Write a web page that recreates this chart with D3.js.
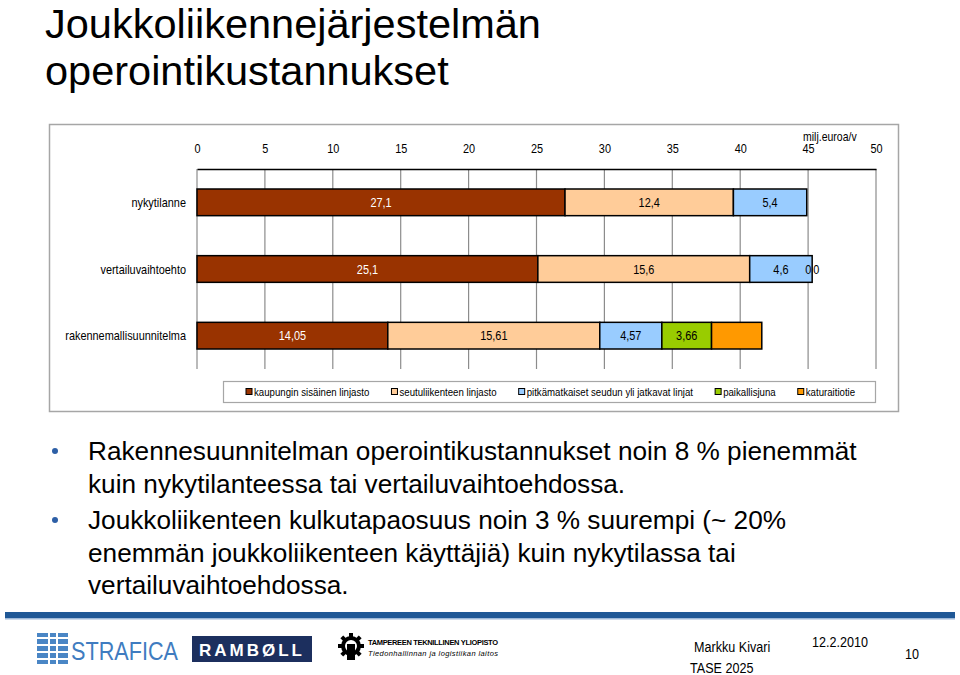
<!DOCTYPE html>
<html>
<head>
<meta charset="utf-8">
<script src="https://cdn.jsdelivr.net/npm/d3@7"></script>
<style>
  html, body { margin: 0; padding: 0; background: #fff; }
  svg { display: block; }
  .sans, .narrow { font-family: "Liberation Sans", Arial, Helvetica, sans-serif; }
</style>
</head>
<body>
<svg id="chart" width="960" height="675"></svg>
<script>
// ---------- DATA ----------
const titleLines = ["Joukkoliikennejärjestelmän", "operointikustannukset"];
const categories = ["nykytilanne", "vertailuvaihtoehto", "rakennemallisuunnitelma"];
const seriesNames = ["kaupungin sisäinen linjasto", "seutuliikenteen linjasto",
  "pitkämatkaiset seudun yli jatkavat linjat", "paikallisjuna", "katuraitiotie"];
const kaupunginSisainen = [27.1, 25.1, 14.05];
const seutuliikenne = [12.4, 15.6, 15.61];
const pitkamatkaiset = [5.4, 4.6, 4.57];
const paikallisjuna = [null, 0, 3.66];
const katuraitiotie = [null, 0, 3.7];
const hiddenLabels = [["katuraitiotie", "rakennemallisuunnitelma"]];
const seriesColors = ["#993300", "#FFCC99", "#99CCFF", "#99CC00", "#FF9900"];
const labelColors = ["#ffffff", "#000000", "#000000", "#000000", "#000000"];
const xTicks = [0, 5, 10, 15, 20, 25, 30, 35, 40, 45, 50];
const unitLabel = "milj.euroa/v";
const bullets = [
  ["Rakennesuunnitelman operointikustannukset noin 8 % pienemmät",
   "kuin nykytilanteessa tai vertailuvaihtoehdossa."],
  ["Joukkoliikenteen kulkutapaosuus noin 3 % suurempi (~ 20%",
   "enemmän joukkoliikenteen käyttäjiä) kuin nykytilassa tai",
   "vertailuvaihtoehdossa."]
];
const footerAuthor = "Markku Kivari";
const footerProject = "TASE 2025";
const footerDate = "12.2.2010";
const footerPage = "10";

const seriesValues = [kaupunginSisainen, seutuliikenne, pitkamatkaiset, paikallisjuna, katuraitiotie];

// condensed look (no narrow font installed): horizontal squeeze
const K = 0.84;
function narrow(sel, k = K) {
  sel.each(function () {
    const t = d3.select(this);
    const x = +t.attr("x") || 0, y = +t.attr("y") || 0;
    t.attr("x", 0).attr("y", 0).attr("transform", `translate(${x},${y}) scale(${k},1)`);
  });
  return sel;
}

// ---------- DRAW ----------
const svg = d3.select("#chart");

// Title
svg.append("g").selectAll("text").data(titleLines).join("text")
  .attr("class", "sans")
  .attr("x", 45).attr("y", (d, i) => 38 + i * 47)
  .attr("font-size", 41.5).attr("fill", "#000")
  .text(d => d);

// Chart frame
svg.append("rect").attr("x", 49.5).attr("y", 124.5).attr("width", 849).attr("height", 287)
  .attr("fill", "#fff").attr("stroke", "#a6a6a6").attr("stroke-width", 1.5);

const x = d3.scaleLinear().domain([0, 50]).range([197, 876]);
const y = d3.scaleBand().domain(categories).range([169, 369]).paddingInner(0.6).paddingOuter(0.3);

const plot = svg.append("g");

// gridlines
plot.append("g").selectAll("line").data(xTicks).join("line")
  .attr("x1", d => x(d)).attr("x2", d => x(d))
  .attr("y1", 169).attr("y2", 369)
  .attr("stroke", "#8c8c8c").attr("stroke-width", 1.2);

// top axis
const axis = d3.axisTop(x).tickValues(xTicks).tickSize(0).tickPadding(16).tickFormat(d => d);
const axG = plot.append("g").attr("transform", "translate(0,169)").call(axis);
axG.select(".domain").attr("stroke", "#000").attr("stroke-width", 1.3);
axG.selectAll("text").attr("class", "narrow").attr("font-size", 13).attr("fill", "#000")
  .attr("font-family", null);
narrow(axG.selectAll(".tick text"));

narrow(plot.append("text").attr("class", "narrow").attr("x", 803).attr("y", 140.5)
  .attr("font-size", 12.5).text(unitLabel));

// category labels
narrow(plot.append("g").selectAll("text").data(categories).join("text")
  .attr("class", "narrow")
  .attr("x", 186).attr("y", d => y(d) + y.bandwidth() / 2)
  .attr("dy", "0.35em").attr("text-anchor", "end")
  .attr("font-size", 13).text(d => d));

// stacked segments
const segs = [];
categories.forEach((c, ci) => {
  let acc = 0;
  const zerosHere = [];
  seriesValues.forEach((arr, si) => {
    const v = arr[ci];
    if (v === null || v === undefined) return;
    const seg = { cat: c, si, v, x0: acc, x1: acc + v };
    acc += v;
    segs.push(seg);
    if (v === 0) zerosHere.push(seg);
  });
  zerosHere.forEach((s, k) => { s.shift = (k - (zerosHere.length - 1) / 2) * 8; });
});

plot.append("g").selectAll("rect").data(segs.filter(s => s.v > 0)).join("rect")
  .attr("x", s => x(s.x0)).attr("width", s => x(s.x1) - x(s.x0))
  .attr("y", s => y(s.cat)).attr("height", y.bandwidth())
  .attr("fill", s => seriesColors[s.si])
  .attr("stroke", "#000").attr("stroke-width", 1.5);

const isHidden = s => hiddenLabels.some(h => h[0] === seriesNames[s.si] && h[1] === s.cat);
narrow(plot.append("g").selectAll("text").data(segs.filter(s => !isHidden(s))).join("text")
  .attr("class", "narrow")
  .attr("x", s => (x(s.x0) + x(s.x1)) / 2 + (s.shift || 0))
  .attr("y", s => y(s.cat) + y.bandwidth() / 2)
  .attr("dy", "0.35em").attr("text-anchor", "middle")
  .attr("font-size", 13)
  .attr("fill", s => s.v === 0 ? "#000" : labelColors[s.si])
  .text(s => String(s.v).replace(".", ",")));

// legend
const leg = svg.append("g");
leg.append("rect").attr("x", 223.5).attr("y", 381.5).attr("width", 652).attr("height", 21)
  .attr("fill", "#fff").attr("stroke", "#a6a6a6").attr("stroke-width", 1.2);
let lx = 246;
seriesNames.forEach((n, i) => {
  const g = leg.append("g");
  g.append("rect").attr("x", lx).attr("y", 388.5).attr("width", 6).attr("height", 6)
    .attr("fill", seriesColors[i]).attr("stroke", "#000").attr("stroke-width", 1);
  const t = g.append("text").attr("class", "narrow").attr("x", lx + 8).attr("y", 396)
    .attr("font-size", 11.5).text(n);
  const w = t.node().getComputedTextLength() * K;
  narrow(t);
  lx += 8 + w + 22;
});

// bullets
let by = 460;
const bg = svg.append("g");
bullets.forEach((lines) => {
  bg.append("circle").attr("cx", 55).attr("cy", by - 9).attr("r", 3).attr("fill", "#2d5fa6");
  lines.forEach((l) => {
    bg.append("text").attr("class", "sans").attr("x", 88).attr("y", by)
      .attr("font-size", 26.2).attr("fill", "#000").text(l);
    by += 32.5;
  });
  by += 4;
});

// footer
const ft = svg.append("g");
ft.append("rect").attr("x", 5).attr("y", 612).attr("width", 950).attr("height", 6).attr("fill", "#1f5896");
ft.append("rect").attr("x", 5).attr("y", 618).attr("width", 950).attr("height", 1.5).attr("fill", "#9db8d8");

// STRAFICA logo
const sl = ft.append("g");
sl.append("rect").attr("x", 37).attr("y", 633).attr("width", 31).attr("height", 31).attr("fill", "#4a86c5");
[0, 1, 2, 3].forEach(k => {
  sl.append("rect").attr("x", 37).attr("y", 637 + k * 7).attr("width", 31).attr("height", 2).attr("fill", "#fff");
});
sl.append("rect").attr("x", 48).attr("y", 633).attr("width", 2).attr("height", 31).attr("fill", "#fff");
sl.append("rect").attr("x", 56).attr("y", 633).attr("width", 2).attr("height", 31).attr("fill", "#fff");
sl.append("text").attr("class", "sans").attr("x", 71).attr("y", 660).attr("font-size", 26)
  .attr("fill", "#3f7cc0").attr("textLength", 107).attr("lengthAdjust", "spacingAndGlyphs").text("STRAFICA");

// RAMBOLL logo
ft.append("rect").attr("x", 192).attr("y", 636).attr("width", 120).attr("height", 26).attr("fill", "#1c2f5e");
ft.append("text").attr("class", "sans").attr("x", 252).attr("y", 656).attr("text-anchor", "middle")
  .attr("font-size", 17).attr("font-weight", "bold").attr("fill", "#fff").attr("letter-spacing", 3).text("RAMBØLL");

// TTY logo
const tl = ft.append("g");
tl.append("circle").attr("cx", 351).attr("cy", 646).attr("r", 8).attr("fill", "none").attr("stroke", "#000").attr("stroke-width", 4);
d3.range(8).forEach(k => {
  tl.append("rect").attr("x", 349).attr("y", 633).attr("width", 4).attr("height", 5).attr("fill", "#000")
    .attr("transform", `rotate(${k * 45},351,646)`);
});
tl.append("rect").attr("x", 347).attr("y", 644).attr("width", 8).attr("height", 16).attr("fill", "#000");
tl.append("text").attr("class", "sans").attr("x", 368).attr("y", 645).attr("font-size", 7.5)
  .attr("font-weight", "bold").attr("textLength", 130).text("TAMPEREEN TEKNILLINEN YLIOPISTO");
tl.append("text").attr("class", "sans").attr("x", 368).attr("y", 656).attr("font-size", 7.5)
  .attr("font-style", "italic").attr("textLength", 130).text("Tiedonhallinnan ja logistiikan laitos");

narrow(ft.append("text").attr("class", "narrow").attr("x", 694).attr("y", 652).attr("font-size", 15).text(footerAuthor));
narrow(ft.append("text").attr("class", "narrow").attr("x", 690).attr("y", 673).attr("font-size", 15).text(footerProject));
narrow(ft.append("text").attr("class", "narrow").attr("x", 812).attr("y", 647).attr("font-size", 15).text(footerDate));
narrow(ft.append("text").attr("class", "narrow").attr("x", 905).attr("y", 659).attr("font-size", 15).text(footerPage));
</script>
</body>
</html>
